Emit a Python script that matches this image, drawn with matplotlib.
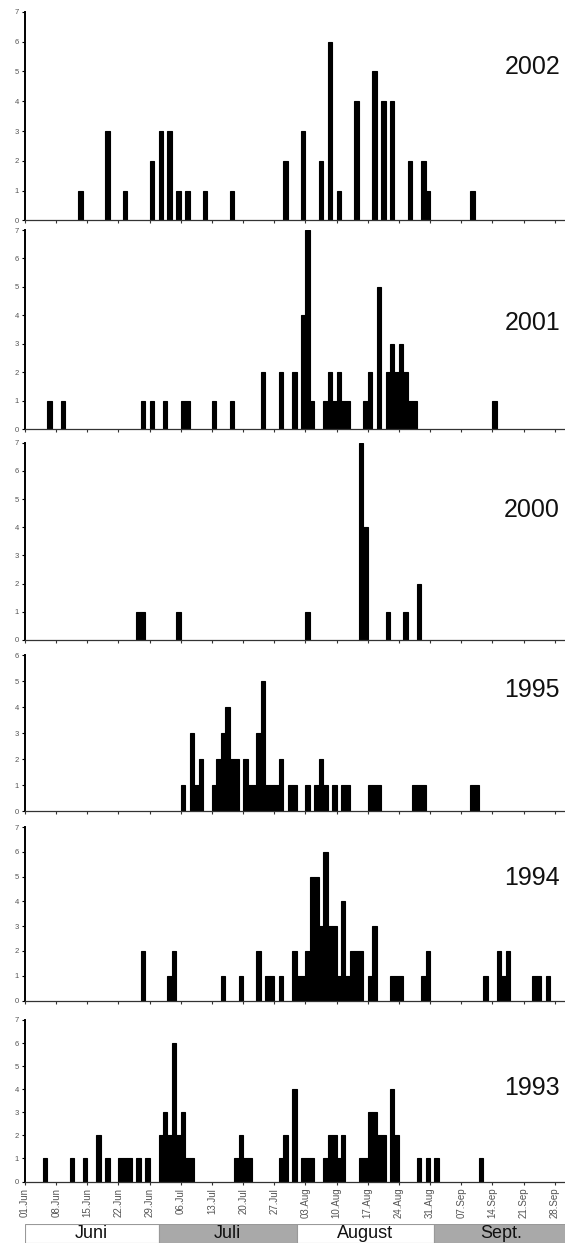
import matplotlib.pyplot as plt
import numpy as np

plt.rcParams['font.family'] = ['Liberation Sans', 'DejaVu Sans']

# day index counted from 01 June, number of records per day
years = ['2002', '2001', '2000', '1995', '1994', '1993']

days_2002 = [12, 18, 22, 28, 30, 32, 34, 36, 40, 46, 58, 62, 66, 68, 70, 74, 78, 80, 82, 86, 89, 90, 100]
counts_2002 = [1, 3, 1, 2, 3, 3, 1, 1, 1, 1, 2, 3, 2, 6, 1, 4, 5, 4, 4, 2, 2, 1, 1]

days_2001 = [5, 8, 26, 28, 31, 35, 36, 42, 46, 53, 57, 60, 62, 63, 64, 67, 68, 69, 70, 71, 72,
             76, 77, 79, 81, 82, 83, 84, 85, 86, 87, 105]
counts_2001 = [1, 1, 1, 1, 1, 1, 1, 1, 1, 2, 2, 2, 4, 7, 1, 1, 2, 1, 2, 1, 1,
               1, 2, 5, 2, 3, 2, 3, 2, 1, 1, 1]

days_2000 = [25, 26, 34, 63, 75, 76, 81, 85, 88]
counts_2000 = [1, 1, 1, 1, 7, 4, 1, 1, 2]

days_1995 = [35, 37, 38, 39, 42, 43, 44, 45, 46, 47, 49, 50, 51, 52, 53, 54, 55, 56, 57, 59, 60,
             63, 65, 66, 67, 69, 71, 72, 77, 78, 79, 87, 88, 89, 100, 101]
counts_1995 = [1, 3, 1, 2, 1, 2, 3, 4, 2, 2, 2, 1, 1, 3, 5, 1, 1, 1, 2, 1, 1,
               1, 1, 2, 1, 1, 1, 1, 1, 1, 1, 1, 1, 1, 1, 1]

days_1994 = [26, 32, 33, 44, 48, 52, 54, 55, 57, 60, 61, 62, 63, 64, 65, 66, 67, 68, 69, 70,
             71, 72, 73, 74, 75, 77, 78, 82, 83, 84, 89, 90, 103, 106, 107, 108, 114, 115, 117]
counts_1994 = [2, 1, 2, 1, 1, 2, 1, 1, 1, 2, 1, 1, 2, 5, 5, 3, 6, 3, 3, 1,
               4, 1, 2, 2, 2, 1, 3, 1, 1, 1, 1, 2, 1, 2, 1, 2, 1, 1, 1]

days_1993 = [4, 10, 13, 16, 18, 21, 22, 23, 25, 27, 30, 31, 32, 33, 34, 35, 36, 37, 47, 48, 49, 50,
             57, 58, 60, 62, 63, 64, 67, 68, 69, 70, 71, 75, 76, 77, 78, 79, 80, 82, 83, 88, 90, 92, 102]
counts_1993 = [1, 1, 1, 2, 1, 1, 1, 1, 1, 1, 2, 3, 2, 6, 2, 3, 1, 1, 1, 2, 1, 1,
               1, 2, 4, 1, 1, 1, 1, 2, 2, 1, 2, 1, 1, 3, 3, 2, 2, 4, 2, 1, 1, 1, 1]

y_max = [7, 7, 7, 6, 7, 7]

tick_days = list(range(0, 120, 7))
tick_labels = ['01.Jun', '08.Jun', '15.Jun', '22.Jun', '29.Jun', '06.Jul', '13.Jul', '20.Jul',
               '27.Jul', '03.Aug', '10.Aug', '17.Aug', '24.Aug', '31.Aug', '07.Sep', '14.Sep',
               '21.Sep', '28.Sep']

months = ['Juni', 'Juli', 'August', 'Sept.']
month_start = [0, 30, 61, 92]
month_len = [30, 31, 31, 30]
month_fill = ['white', '#a9a9a9', 'white', '#a9a9a9']

series = [(days_2002, counts_2002), (days_2001, counts_2001), (days_2000, counts_2000),
          (days_1995, counts_1995), (days_1994, counts_1994), (days_1993, counts_1993)]

W, H = 565, 1243
fig = plt.figure(figsize=(W / 100, H / 100), dpi=100)

# panel top / bottom in pixels
panel_px = [(11.7, 220.5), (230, 429.3), (442.7, 640), (655, 811), (827, 1000.5), (1020, 1181.5)]
left_px = 25
px_per_day = 4.451
x_right = (W - left_px) / px_per_day

for i, (yr, (d, c)) in enumerate(zip(years, series)):
    top, bot = panel_px[i]
    ax = fig.add_axes([left_px / W, 1 - bot / H, (W - left_px) / W, (bot - top) / H])
    ax.bar(d, c, width=1.0, align='edge', color='black', edgecolor='black', linewidth=0.8)
    ax.set_xlim(0, x_right)
    ax.set_ylim(0, y_max[i])
    ax.set_yticks(range(0, y_max[i] + 1))
    ax.set_xticks(tick_days)
    for s in ['top', 'right']:
        ax.spines[s].set_visible(False)
    ax.spines['left'].set_linewidth(1.4)
    ax.spines['bottom'].set_linewidth(0.9)
    ax.spines['bottom'].set_color('#333333')
    ax.tick_params(axis='y', length=2.5, width=0.8, pad=2, labelsize=5.5, labelcolor='#555555')
    ax.tick_params(axis='x', length=2.5, width=0.8, color='#333333', pad=2)
    if i == len(years) - 1:
        ax.set_xticklabels(tick_labels, rotation=90, fontsize=7, color='#555555')
    else:
        ax.set_xticklabels([])
    fig.text(560 / W, 1 - [67, 323, 510, 690, 878, 1088][i] / H, yr,
             ha='right', va='center', fontsize=18, color='#111111')

# month strip
axm = fig.add_axes([left_px / W, 0, (W - left_px) / W, (H - 1224) / H])
axm.bar(month_start, [1] * 4, width=month_len, align='edge', color=month_fill,
        edgecolor='#999999', linewidth=0.8)
axm.set_xlim(0, x_right)
axm.set_ylim(0, 1.0)
axm.axis('off')
for m, s0, ln in zip(months, month_start, month_len):
    axm.text(s0 + ln / 2, 0.5, m, ha='center', va='center', fontsize=13, color='#111111')

fig.savefig('out.png', dpi=100)
